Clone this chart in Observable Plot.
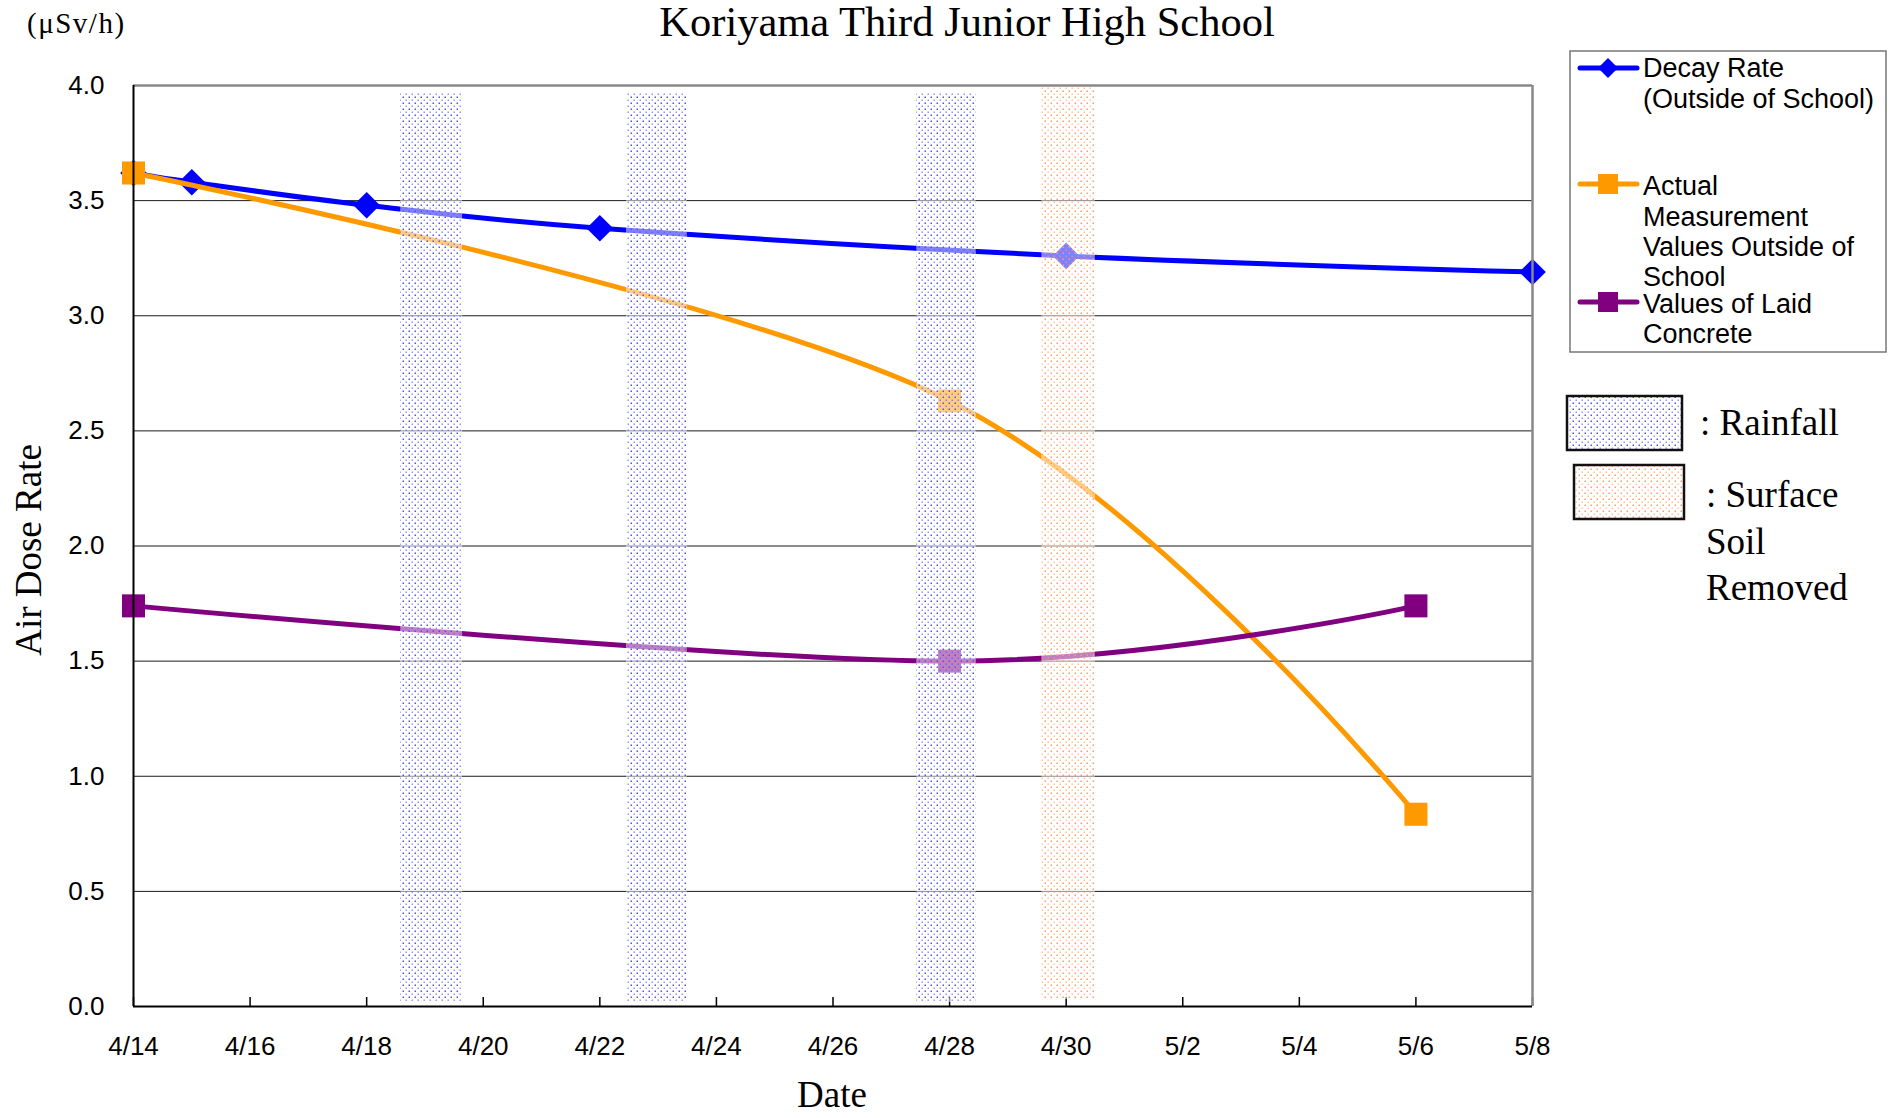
<!DOCTYPE html>
<html><head><meta charset="utf-8">
<script src="https://cdn.jsdelivr.net/npm/d3@7"></script>
<script src="https://cdn.jsdelivr.net/npm/@observablehq/plot@0.6"></script>
<style>body{margin:0;background:#fff;} svg{display:block}</style>
</head><body><div id="chart"></div>
<script>
// ---- data ----
const xDomain = ["2011-04-14", "2011-05-08"];
const yDomain = [0, 4];
const xTicks = ["2011-04-14","2011-04-16","2011-04-18","2011-04-20","2011-04-22","2011-04-24","2011-04-26","2011-04-28","2011-04-30","2011-05-02","2011-05-04","2011-05-06","2011-05-08"];
const yTicks = [0, 0.5, 1, 1.5, 2, 2.5, 3, 3.5, 4];

const decayDates = ["2011-04-14","2011-04-15","2011-04-18","2011-04-22","2011-04-30","2011-05-08"];
const decayValues = [3.62, 3.58, 3.48, 3.38, 3.26, 3.19];
const actualDates = ["2011-04-14","2011-04-28","2011-05-06"];
const actualValues = [3.62, 2.63, 0.835];
const concreteDates = ["2011-04-14","2011-04-28","2011-05-06"];
const concreteValues = [1.74, 1.50, 1.74];

const rainStarts = ["2011-04-18T14:00Z","2011-04-22T11:00Z","2011-04-27T10:30Z"];
const rainEnds   = ["2011-04-19T15:30Z","2011-04-23T12:00Z","2011-04-28T11:00Z"];
const soilStarts = ["2011-04-29T14:00Z"];
const soilEnds   = ["2011-04-30T12:00Z"];

const title = "Koriyama Third Junior High School";

// ---- build ----
const P = s => new Date(s.length === 10 ? s + "T00:00Z" : s);
const toRows = (ds, vs) => ds.map((d, i) => ({date: P(d), value: vs[i]}));
const decay = toRows(decayDates, decayValues);
const actual = toRows(actualDates, actualValues);
const concrete = toRows(concreteDates, concreteValues);
const rain = rainStarts.map((s, i) => ({start: P(s), end: P(rainEnds[i])}));
const soil = soilStarts.map((s, i) => ({start: P(s), end: P(soilEnds[i])}));
const xt = xTicks.map(P);
const fmt = d3.utcFormat("%-m/%-d");

const BLUE = "#0000ff", ORANGE = "#ff9900", PURPLE = "#800080";
const SANS = "'Liberation Sans', Arial, sans-serif";
const SERIF = "'Liberation Serif', 'Times New Roman', serif";

const chart = Plot.plot({
  width: 1897, height: 1118,
  marginLeft: 133, marginRight: 365, marginTop: 85, marginBottom: 112,
  style: {fontFamily: SANS, background: "#fff"},
  x: {type: "utc", domain: xDomain.map(P)},
  y: {domain: yDomain},
  marks: [
    Plot.gridY(yTicks, {stroke: "#1a1a1a", strokeOpacity: 1, strokeWidth: 1}),
    Plot.axisY({ticks: yTicks, tickSize: 0, tickPadding: 29, tickFormat: d3.format(".1f"), fontSize: 26, label: null}),
    Plot.axisX({ticks: xt, tickSize: 0, tickPadding: 30, tickFormat: fmt, fontSize: 26, label: null}),
    Plot.axisX({ticks: xt, tickSize: 9, dy: -9, tickFormat: () => "", stroke: "#000", strokeWidth: 1.5, label: null}),
    // series
    Plot.line(decay, {x: "date", y: "value", stroke: BLUE, strokeWidth: 5, curve: "cardinal"}),
    Plot.dot(decay, {x: "date", y: "value", symbol: "diamond2", r: 12, fill: BLUE, stroke: "none"}),
    Plot.line(actual, {x: "date", y: "value", stroke: ORANGE, strokeWidth: 5, curve: "cardinal"}),
    Plot.dot(actual, {x: "date", y: "value", symbol: "square", r: 13, fill: ORANGE, stroke: "none"}),
    Plot.line(concrete, {x: "date", y: "value", stroke: PURPLE, strokeWidth: 5, curve: "cardinal"}),
    Plot.dot(concrete, {x: "date", y: "value", symbol: "square", r: 13, fill: PURPLE, stroke: "none"}),
    // bands
    Plot.rect(rain, {x1: "start", x2: "end", y1: yDomain[0], y2: yDomain[1], insetTop: 7, insetBottom: 4, fill: "url(#rainPat)"}),
    Plot.rect(soil, {x1: "start", x2: "end", y1: yDomain[0], y2: yDomain[1], insetTop: 2, insetBottom: 7, fill: "url(#soilPat)"}),
    // frame
    Plot.ruleY([yDomain[1]], {stroke: "#888", strokeWidth: 2.5}),
    Plot.ruleX([P(xDomain[1])], {stroke: "#888", strokeWidth: 2.5}),
    Plot.ruleY([yDomain[0]], {stroke: "#000", strokeWidth: 2}),
    Plot.ruleX([P(xDomain[0])], {stroke: "#000", strokeWidth: 2})
  ]
});
document.getElementById("chart").append(chart);

const svg = d3.select(chart);
const defs = svg.insert("defs", ":first-child");
function pattern(id, color) {
  const p = defs.append("pattern").attr("id", id).attr("patternUnits", "userSpaceOnUse")
    .attr("width", 6).attr("height", 6);
  p.append("rect").attr("width", 6).attr("height", 6).attr("fill", "#fff").attr("fill-opacity", 0.5);
  p.append("rect").attr("x", 0.5).attr("y", 0.5).attr("width", 1.5).attr("height", 1.5).attr("fill", color);
  p.append("rect").attr("x", 3.5).attr("y", 3.5).attr("width", 1.5).attr("height", 1.5).attr("fill", color).attr("fill-opacity", 0.6);
}
pattern("rainPat", "#5050ff");
pattern("soilPat", "#ff9a66");

const g = svg.append("g");
function txt(x, y, s, opts = {}) {
  const t = g.append("text").attr("x", x).attr("y", y).text(s)
    .attr("font-family", opts.family || SERIF).attr("font-size", opts.size || 36)
    .attr("fill", "#000").attr("text-anchor", opts.anchor || "start");
  if (opts.transform) t.attr("transform", opts.transform);
  return t;
}
// title & unit
txt(967, 36, title, {size: 42.5, anchor: "middle"});
txt(27, 33, "(μSv/h)", {size: 29}).attr("letter-spacing", 1.5);
// axis titles
txt(0, 0, "Air Dose Rate", {size: 37, anchor: "middle", transform: "translate(41,550) rotate(-90)"});
txt(832, 1107, "Date", {size: 37, anchor: "middle"});

// series legend
g.append("rect").attr("x", 1570).attr("y", 51).attr("width", 316).attr("height", 301)
  .attr("fill", "#fff").attr("stroke", "#777").attr("stroke-width", 1.5);
const legendItems = [
  {color: BLUE, sym: "diamond", y: 68, lines: ["Decay Rate", "(Outside of School)"], ys: [68, 99]},
  {color: ORANGE, sym: "square", y: 184, lines: ["Actual", "Measurement", "Values Outside of", "School"], ys: [186, 217, 247, 277]},
  {color: PURPLE, sym: "square", y: 302, lines: ["Values of Laid", "Concrete"], ys: [304, 334]}
];
for (const it of legendItems) {
  g.append("line").attr("x1", 1580).attr("x2", 1637).attr("y1", it.y).attr("y2", it.y)
    .attr("stroke", it.color).attr("stroke-width", 5).attr("stroke-linecap", "round");
  if (it.sym === "diamond") {
    g.append("path").attr("d", `M1608,${it.y - 10}L1618,${it.y}L1608,${it.y + 10}L1598,${it.y}Z`).attr("fill", it.color);
  } else {
    g.append("rect").attr("x", 1598).attr("y", it.y - 10).attr("width", 20).attr("height", 20).attr("fill", it.color);
  }
  it.lines.forEach((s, i) => txt(1643, it.ys[i], s, {family: SANS, size: 27}).attr("dominant-baseline", "central"));
}
// band legend
g.append("rect").attr("x", 1567).attr("y", 396).attr("width", 115).attr("height", 54)
  .attr("fill", "url(#rainPat)").attr("stroke", "#111").attr("stroke-width", 2.5);
g.append("rect").attr("x", 1574).attr("y", 465).attr("width", 110).attr("height", 54)
  .attr("fill", "url(#soilPat)").attr("stroke", "#111").attr("stroke-width", 2.5);
txt(1700, 435, ": Rainfall", {size: 37});
txt(1706, 507, ": Surface", {size: 37});
txt(1706, 554, "Soil", {size: 37});
txt(1706, 600, "Removed", {size: 37});
</script>
</body></html>
